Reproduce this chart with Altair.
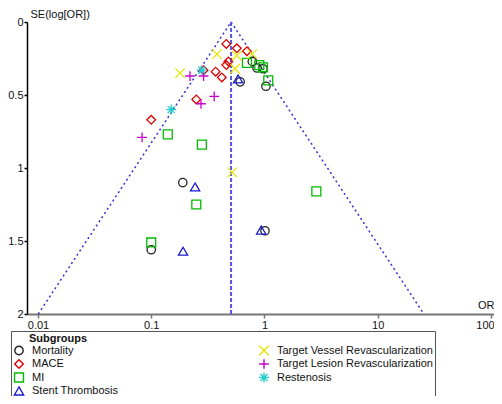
import altair as alt
import pandas as pd
import numpy as np

# ---- data ----
mortality_or = [0.78, 0.86, 0.97, 1.03, 0.61, 0.19, 0.10, 1.01]
mortality_se = [0.27, 0.315, 0.32, 0.44, 0.41, 1.10, 1.56, 1.43]

mace_or = [0.46, 0.57, 0.70, 0.48, 0.46, 0.29, 0.37, 0.42, 0.25, 0.10]
mace_se = [0.15, 0.18, 0.20, 0.27, 0.295, 0.33, 0.34, 0.38, 0.53, 0.67]

mi_or = [0.70, 0.90, 0.97, 1.08, 0.14, 0.28, 0.25, 0.10, 2.87]
mi_se = [0.28, 0.295, 0.31, 0.40, 0.77, 0.84, 1.25, 1.51, 1.16]

st_or = [0.585, 0.244, 0.191, 0.935]
st_se = [0.39, 1.13, 1.57, 1.425]

tvr_or = [0.18, 0.38, 0.57, 0.78, 0.55, 0.52]
tvr_se = [0.35, 0.22, 0.23, 0.22, 0.32, 1.03]

tlr_or = [0.22, 0.29, 0.36, 0.275, 0.083]
tlr_se = [0.37, 0.37, 0.51, 0.56, 0.79]

rest_or = [0.28, 0.15]
rest_se = [0.33, 0.60]

summary_or = 0.507
z = 1.96

x_ticks = [0.01, 0.1, 1, 10, 100]
y_ticks = [0, 0.5, 1, 1.5, 2]

groups = {
    "Mortality": (mortality_or, mortality_se),
    "MACE": (mace_or, mace_se),
    "MI": (mi_or, mi_se),
    "Stent Thrombosis": (st_or, st_se),
    "Target Vessel Revascularization": (tvr_or, tvr_se),
    "Target Lesion Revascularization": (tlr_or, tlr_se),
    "Restenosis": (rest_or, rest_se),
}

order = list(groups.keys())
colors = ["#222222", "#dd0000", "#00bb00", "#1a1acc", "#e6e600", "#cc00cc", "#22cccc"]
X_PATH = "M-1,-1L1,1M-1,1L1,-1"
PLUS_PATH = "M-1,0H1M0,-1V1"
STAR_PATH = "M-1,0H1M0,-1V1M-0.7,-0.7L0.7,0.7M-0.7,0.7L0.7,-0.7"
shapes = ["circle", "diamond", "square", "triangle-up", X_PATH, PLUS_PATH, STAR_PATH]
sizes = [70, 100, 56, 100, 70, 70, 70]

rows = []
for g, (ors, ses) in groups.items():
    for o, s in zip(ors, ses):
        rows.append({"group": g, "or": o, "se": s})
pts = pd.DataFrame(rows)

line_rows = []
for side, sign in [("left", -1), ("right", 1)]:
    for s in [0, 2]:
        line_rows.append({"side": side, "se": s,
                          "or": float(np.exp(np.log(summary_or) + sign * z * s))})
funnel = pd.DataFrame(line_rows)
vdf = pd.DataFrame({"or": [summary_or, summary_or], "se": [0, 2]})

FONT = "Liberation Sans"
BLANK = "\u2800"
xscale = alt.Scale(type="log", domain=[0.008, 106.3], nice=False)
yscale = alt.Scale(domain=[0, 2], reverse=True, nice=False)

def X():
    return alt.X("or:Q", scale=xscale, axis=alt.Axis(
        values=x_ticks, format="~g", title="OR", grid=False,
        domainColor="#777777", domainWidth=2, tickColor="#777777", tickWidth=1.5,
        tickSize=4, labelPadding=1, labelFontSize=11, labelColor="#111",
        labelOffset=alt.expr("datum.value >= 100 ? -6 : 0"),
        titleFontSize=11, titleFontWeight="normal", titleX=467, titleY=-4,
        titleAlign="right", titleBaseline="bottom", titleColor="#111",
        labelFont=FONT, titleFont=FONT))

def Y():
    return alt.Y("se:Q", scale=yscale, axis=alt.Axis(
        values=y_ticks, format="~g", title="SE(log[OR])", grid=False,
        domainColor="#000000", domainWidth=1.5, tickColor="#000", tickWidth=1.5,
        tickSize=3, labelPadding=1, labelFontSize=11, labelColor="#111",
        titleFontSize=11, titleFontWeight="normal", titleAngle=0, titleX=3, titleY=-3,
        titleAlign="left", titleBaseline="bottom", titleColor="#111",
        labelFont=FONT, titleFont=FONT))

funnel_lines = alt.Chart(funnel).mark_line(
    color="#3333cc", strokeDash=[2, 3], strokeWidth=1.5
).encode(x=X(), y=Y(), detail="side:N")

vline = alt.Chart(vdf).mark_line(
    color="#5555dd", strokeDash=[4, 2], strokeWidth=2
).encode(x=X(), y=Y())

leg = alt.Legend(
    title=BLANK * 2 + "Subgroups", orient="none", legendX=-16, legendY=309,
    columns=2, columnPadding=139, rowPadding=1.5, labelOffset=7, clipHeight=11,
    symbolSize=100, symbolStrokeWidth=1.4, labelFontSize=11, titleFontSize=11,
    titleFontWeight="bold", titlePadding=1, padding=2, strokeColor="#555555",
    labelFont=FONT, titleFont=FONT, labelColor="#111", titleColor="#111", labelLimit=400)

points = alt.Chart(pts).mark_point(filled=False, strokeWidth=1.3, opacity=1).encode(
    x=X(), y=Y(),
    color=alt.Color("group:N", scale=alt.Scale(domain=order, range=colors), legend=leg),
    shape=alt.Shape("group:N", scale=alt.Scale(domain=order, range=shapes), legend=leg),
    size=alt.Size("group:N", scale=alt.Scale(domain=order, range=sizes), legend=None),
)

chart = alt.layer(funnel_lines, vline, points).properties(
    width=467, height=292,
    padding={"left": 19, "top": 14, "right": 0, "bottom": 82},
    autosize=alt.AutoSizeParams(type="none"),
).configure_view(stroke=None)

chart.save("out.html", embed_options={"renderer": "svg", "actions": False})
